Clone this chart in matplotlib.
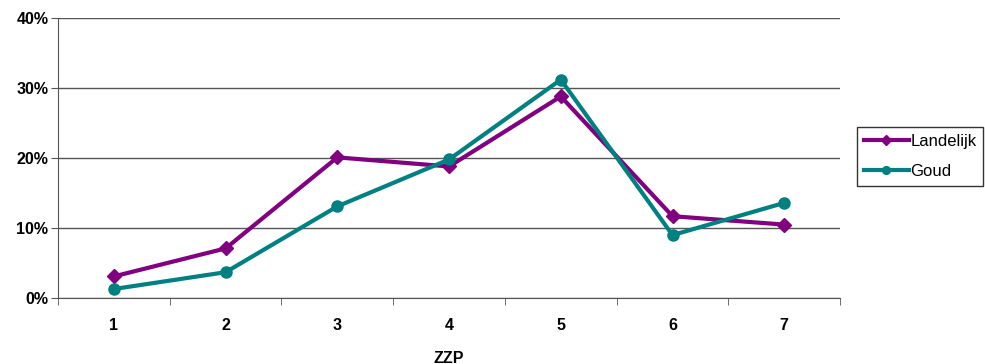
import matplotlib.pyplot as plt
from matplotlib.ticker import FixedLocator, PercentFormatter

plt.rcParams['font.family'] = ['Liberation Sans', 'DejaVu Sans']

categories = ['1', '2', '3', '4', '5', '6', '7']
landelijk = [3.1, 7.1, 20.1, 18.8, 28.8, 11.7, 10.5]
goud = [1.3, 3.7, 13.1, 19.8, 31.2, 9.0, 13.6]

fig = plt.figure(figsize=(9.85, 3.64), dpi=100)
ax = fig.add_axes([0.0589, 0.181, 0.794, 0.7695])

x = list(range(1, len(categories) + 1))
ax.plot(x, landelijk, color='#800080', lw=3, marker='D', ms=7,
        label='Landelijk')
ax.plot(x, goud, color='#008080', lw=3, marker='o', ms=8,
        label='Goud')

ax.set_xlim(0.5, 7.5)
ax.set_ylim(0, 40)
ax.set_yticks([0, 10, 20, 30, 40])
ax.yaxis.set_major_formatter(PercentFormatter(decimals=0))
ax.set_xticks(x)
ax.set_xticklabels(categories)
ax.xaxis.set_minor_locator(FixedLocator([i + 0.5 for i in range(0, 8)]))
ax.tick_params(axis='x', which='major', length=0, pad=14)
ax.tick_params(axis='x', which='minor', length=5, direction='out', color='#555555')
ax.tick_params(axis='y', length=5, direction='out', color='#555555', pad=2)
for lab in ax.get_xticklabels() + ax.get_yticklabels():
    lab.set_fontweight('bold')
    lab.set_fontsize(11.5)

ax.grid(axis='y', color='#555555', lw=1)
ax.set_axisbelow(True)
for s in ['top', 'right']:
    ax.spines[s].set_visible(False)
ax.spines['left'].set_color('#555555')
ax.spines['bottom'].set_color('#555555')

ax.set_xlabel('ZZP', fontsize=11.5, fontweight='bold', labelpad=13)

leg = ax.legend(loc='center left', bbox_to_anchor=(1.0217, 0.505), fontsize=12,
                frameon=True, fancybox=False, edgecolor='black',
                handlelength=2.7, handletextpad=0.1, borderpad=0.4,
                labelspacing=0.9, markerscale=0.7, borderaxespad=0)
leg.get_frame().set_linewidth(1)

fig.savefig('out.png', dpi=100)
